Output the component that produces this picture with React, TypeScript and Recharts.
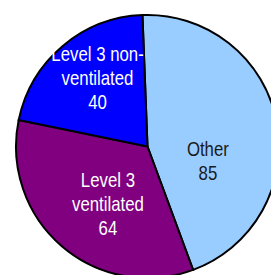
import { PieChart, Pie, Cell } from 'recharts';

const categories = ['Other', 'Level 3 ventilated', 'Level 3 non-ventilated'];
const values = [85, 64, 40];
const labelLines = [['Other', '85'], ['Level 3', 'ventilated', '64'], ['Level 3 non-', 'ventilated', '40']];

const COLORS = ['#99CCFF', '#800080', '#0000FF'];
const TEXT_COLORS = ['#1a1a1a', '#ffffff', '#ffffff'];
// label anchor around the pie centre: radius and angle (degrees, counter-clockwise from 3 o'clock)
const LABEL_SPOTS = [
  { r: 62, a: -13 },
  { r: 69, a: -125 },
  { r: 85, a: 126 },
];

const data = categories.map((name, i) => ({ name, value: values[i] }));

const RAD = Math.PI / 180;
const LINE_H = 24;

function renderLabel(props: any) {
  const { cx, cy, index } = props;
  const spot = LABEL_SPOTS[index];
  const x = cx + spot.r * Math.cos(spot.a * RAD);
  const y = cy - spot.r * Math.sin(spot.a * RAD);
  const lines = labelLines[index];
  const top = y - ((lines.length - 1) * LINE_H) / 2;
  return (
    <text
      key={index}
      x={x}
      y={top}
      textAnchor="middle"
      dominantBaseline="central"
      fill={TEXT_COLORS[index]}
      fontSize={20}
      fontFamily="'Liberation Sans', Arial, sans-serif"
      transform={`translate(${x} 0) scale(0.84 1) translate(${-x} 0)`}
    >
      {lines.map((line, j) => (
        <tspan key={j} x={x} dy={j === 0 ? 0 : LINE_H}>
          {line}
        </tspan>
      ))}
    </text>
  );
}

export default function App() {
  return (
    <div style={{ position: 'absolute', left: 0, top: 0, width: 271, height: 275, background: '#fff' }}>
      <PieChart width={271} height={275}>
        <Pie
          data={data}
          dataKey="value"
          cx={142.5}
          cy={141.5}
          outerRadius={131.5}
          startAngle={92.2}
          endAngle={-267.8}
          stroke="#000"
          strokeWidth={2}
          label={renderLabel}
          labelLine={false}
          isAnimationActive={false}
        >
          {data.map((_, i) => (
            <Cell key={i} fill={COLORS[i]} />
          ))}
        </Pie>
      </PieChart>
    </div>
  );
}
